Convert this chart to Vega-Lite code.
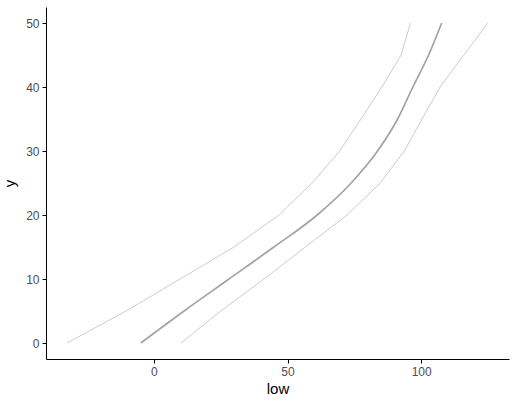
{
  "$schema": "https://vega.github.io/schema/vega-lite/v6.json",
  "autosize": "none",
  "width": 463,
  "height": 352,
  "padding": {"left": 46, "top": 7, "right": 8, "bottom": 45},
  "background": "white",
  "config": {
    "view": {"stroke": null},
    "font": "Liberation Sans",
    "axis": {
      "grid": false,
      "domainColor": "black",
      "domainWidth": 1,
      "tickColor": "black",
      "tickSize": 4,
      "tickWidth": 1,
      "labelColor": "#4d4d4d",
      "labelFontSize": 12,
      "labelFont": "Liberation Sans",
      "titleFont": "Liberation Sans",
      "titleFontSize": 15,
      "titleFontWeight": "normal",
      "titleColor": "black",
      "labelPadding": 3
    }
  },
  "data": {
    "values": [
      {"series": "low", "y": 0, "x": -32.5},
      {"series": "low", "y": 5, "x": -10.4},
      {"series": "low", "y": 10, "x": 9.8},
      {"series": "low", "y": 15, "x": 30.0},
      {"series": "low", "y": 20, "x": 46.8},
      {"series": "low", "y": 25, "x": 59.2},
      {"series": "low", "y": 30, "x": 69.5},
      {"series": "low", "y": 35, "x": 77.5},
      {"series": "low", "y": 40, "x": 85.3},
      {"series": "low", "y": 45, "x": 92.5},
      {"series": "low", "y": 50, "x": 96.0},
      {"series": "mid", "y": 0, "x": -4.9},
      {"series": "mid", "y": 5, "x": 11.3},
      {"series": "mid", "y": 10, "x": 28.1},
      {"series": "mid", "y": 15, "x": 44.9},
      {"series": "mid", "y": 20, "x": 61.1},
      {"series": "mid", "y": 25, "x": 73.8},
      {"series": "mid", "y": 30, "x": 83.7},
      {"series": "mid", "y": 35, "x": 91.2},
      {"series": "mid", "y": 40, "x": 96.9},
      {"series": "mid", "y": 45, "x": 102.8},
      {"series": "mid", "y": 50, "x": 107.7},
      {"series": "high", "y": 0, "x": 10.1},
      {"series": "high", "y": 5, "x": 25.0},
      {"series": "high", "y": 10, "x": 41.2},
      {"series": "high", "y": 15, "x": 56.7},
      {"series": "high", "y": 20, "x": 72.3},
      {"series": "high", "y": 25, "x": 84.7},
      {"series": "high", "y": 30, "x": 93.7},
      {"series": "high", "y": 35, "x": 100.3},
      {"series": "high", "y": 40, "x": 107.1},
      {"series": "high", "y": 45, "x": 116.0},
      {"series": "high", "y": 50, "x": 125.0}
    ]
  },
  "encoding": {
    "x": {
      "field": "x",
      "type": "quantitative",
      "title": "low",
      "scale": {"domain": [-40.375, 132.875], "nice": false, "zero": false},
      "axis": {"values": [0, 50, 100], "titlePadding": 4}
    },
    "y": {
      "field": "y",
      "type": "quantitative",
      "title": "y",
      "scale": {"domain": [-2.5, 52.5], "nice": false, "zero": false},
      "axis": {"values": [0, 10, 20, 30, 40, 50], "titlePadding": 8}
    },
    "detail": {"field": "series"}
  },
  "layer": [
    {
      "transform": [{"filter": "datum.series !== 'mid'"}],
      "mark": {"type": "line", "clip": true, "color": "#aaaaaa", "strokeWidth": 0.6}
    },
    {
      "transform": [{"filter": "datum.series === 'mid'"}],
      "mark": {"type": "line", "clip": true, "color": "#a3a3a3", "strokeWidth": 1.7, "interpolate": "monotone"}
    }
  ]
}
